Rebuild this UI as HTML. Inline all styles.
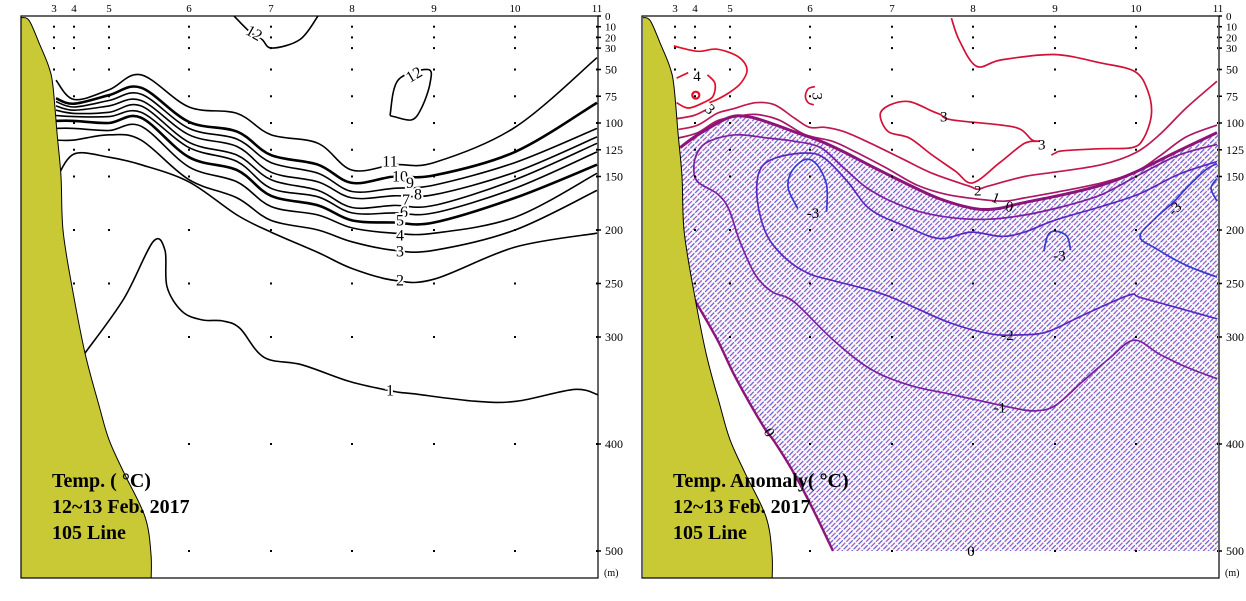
<!DOCTYPE html>
<html><head><meta charset="utf-8"><style>
html,body{margin:0;padding:0;background:#fff}
svg{display:block}
text{font-family:"Liberation Serif",serif}
</style></head><body>
<svg id="chart" width="1246" height="601" viewBox="0 0 1246 601" xmlns="http://www.w3.org/2000/svg">
<defs>
<pattern id="hatch" patternUnits="userSpaceOnUse" width="7" height="7" patternTransform="rotate(-45)">
<line x1="0" y1="1.5" x2="7" y2="1.5" stroke="#a050b8" stroke-width="1.3" stroke-dasharray="4 1.2"/>
<line x1="0" y1="5" x2="7" y2="5" stroke="#5a58d8" stroke-width="1.3" stroke-dasharray="4 1.2"/>
</pattern>
<clipPath id="clipL"><rect x="21" y="16" width="577" height="562"/></clipPath>
<clipPath id="clipR"><rect x="643" y="16" width="575" height="562"/></clipPath>
</defs>
<g id="left"></g>
<g id="right"></g>
</svg>
<script>
// ---- axes data ----
const stationNums=[3,4,5,6,7,8,9,10,11];
const stationKm=[0,5,13.75,33.75,54.25,74.5,95,115.25,135.75];
const stationMaxDepth=[50,250,300,500,500,500,500,500,500];
const sampleDepths=[10,20,30,50,75,100,125,150,200,250,300,400,500];
const depthTicks=[0,10,20,30,50,75,100,125,150,200,250,300,400,500];
const coastKm=[-8.25,-6.25,-3.75,-1.25,-0.25,0.75,1.75,2.25,4.5,7.75,11.25,13.75,17.5,22.75,24.25,24.25];
const coastDepth=[1.5,4,25,48,66,109,150,200,253,315,364,396,427,468,503,530];
// ---- temperature isotherms (depth at each grid km) ----
const tempGridKm=[0.5,5,13.75,21.75,33.75,45.75,54.25,66,74.5,85,95,115.25,135.75];
const iso11=[60,78,69,55,85,91,111,119,144,139,137,104,39];
const iso10=[77,82,74,67,99,108,130,139,156,150,149,127,81];
const iso9=[80,85,79,73,105,115,137,147,164,161,158,137,105];
const iso8=[84,88,84,79,111,122,146,155,170,168,167,146,113];
const iso7=[88,91,90,84,118,130,153,163,179,177,177,153,119];
const iso6=[93,94,94,90,123,136,161,169,184,184,184,161,127];
const iso5=[98,98,100,95,132,144,168,177,191,193,193,170,139];
const iso4=[105,105,107,103,141,155,178,186,198,203,203,188,147];
const iso3=[116,116,111,116,153,170,191,200,211,219,219,200,163];
const iso2=[153,129,132,139,155,186,202,221,236,247,246,216,203];
const iso1Km=[7.75,17.5,24.75,27.75,28.25,32,37,42.25,46.5,52.5,62,74.25,85.25,89.75,105.25,115.75,130,136];
const iso1Depth=[315,264,211,219,253,276,284,285,292,319,326,342,351,353,360,360,349,354];
const iso12TopKm=[45,49,52,54.5,61.5,66];
const iso12TopDepth=[0,15,22,30,22,0];
const iso12LoopKm=[84,86,93.5,94,92,89.5,85,84];
const iso12LoopDepth=[93,60,50,63,85,97,94,93];
const tempLabels=["12","12","11","10","9","8","7","6","5","4","3","2","1"];
const tempLabelKm=[50,90,84,86.5,89,91,88,87.5,86.5,86.5,86.5,86.5,84];
const tempLabelDepth=[16,55,136,150,156,167,172,183,191,205,220,247,350];
const tempLabelRot=[30,-30,0,0,0,0,0,0,0,0,0,0,0];
// ---- anomaly contours [km, depth] ----
const an3Main=[[69.1,2],[71.1,23],[75.4,47],[81.6,41],[94.8,36],[106.6,44],[115,52],[118.2,70],[119.1,92],[117.2,114],[114.3,123],[106.6,124],[97,126],[95.1,128],[94.1,130]];
const an3Loop=[[91.25,117],[87.4,119],[81.2,137],[74.4,156],[70.1,145],[64.3,130],[58.6,114],[53.3,108],[51.3,92],[53.8,83],[58.6,80],[64.3,89],[66.3,92],[69.1,97],[81.6,102],[86.4,106],[89.3,116],[91.25,117]];
const an3Small=[[35,66],[33.3,68],[32.6,75],[33.3,81],[34.7,83]];
const an3Coast=[[0.4,96],[4.7,93],[7.6,88]];
const an4Outer=[[-0.3,28],[5.7,33],[10.5,31],[15.8,38],[18,50],[16.4,63],[13.4,72],[10.5,78],[8.6,81]];
const an4Seg=[[0.4,58],[3.3,53]];
const an4Inner=[[8.1,55],[10,63],[9.5,75],[7.1,81],[3.3,86],[0.4,81]];
const an2=[[0.9,106],[5.7,102],[10.5,91],[14.3,87],[20.1,81],[24.9,83],[29.7,95],[33.6,104],[37.4,104],[42.2,108],[48.9,119],[56.6,133],[64.3,147],[73.5,159],[75.7,162],[78.3,159],[87.4,150],[94.8,146],[106.6,139],[115,128],[121.1,111],[127.8,86],[135.5,61]];
const an1=[[0.9,114],[5.7,109],[10.5,98],[15.3,94],[20.1,92],[25.9,97],[32.6,111],[39.3,117],[45.1,127],[52.8,142],[60.5,158],[68.2,167],[77.8,172],[82.6,173],[87.4,170],[94.8,165],[106.6,156],[115,146],[121.1,131],[127.8,113],[135.5,102]];
const an0=[[1.3,123],[5.7,111],[13.4,95],[18.2,94],[23,99],[29.7,108],[36.4,117],[42.2,127],[48.9,140],[58.6,158],[66.3,171],[74.9,180],[80.7,180],[86.4,175],[97,167],[106.6,158],[115,146],[125.9,126],[135.5,109]];
const an0Lower=[[4.7,264],[10.5,302],[15.3,339],[22,383],[24.9,398],[29.7,427],[34.5,461],[39.5,500]];
const anM1=[[135.5,120],[125.9,130],[116.25,148],[106.6,167],[97,178],[87.4,186],[77.8,190],[68.2,188],[58.6,180],[48.9,163],[42.2,142],[36.4,123],[29.7,117],[23,114],[15.3,111],[8.6,117],[5.7,127],[4.7,142],[5.7,155],[10.5,166],[13.4,180],[16.25,211],[20.1,242],[24.4,258],[29.7,267],[39.3,302],[48.9,330],[58.6,345],[68.2,353],[76.8,360],[85.5,367],[90.3,369],[95.1,364],[101.8,342],[108.6,320],[114.8,303],[121.1,316],[127.8,328],[135.5,339]];
const anM2=[[135.5,136],[125.9,148],[116.25,166],[106.6,178],[94.8,191],[87.4,202],[81.6,206],[74,202],[66.3,208],[58.6,198],[48.9,181],[43.2,155],[37.4,133],[32.6,128],[24.9,133],[21.1,145],[20.6,173],[23,205],[27.8,227],[33.6,241],[40.3,248],[52.8,261],[68.2,286],[78.8,297],[86.4,298],[93.2,295],[101.8,280],[113.4,261],[116.25,263],[125.9,273],[135.5,283]];
const anM3Oval=[[30.7,180],[28.3,161],[29.2,145],[32.6,134],[35.5,139],[37.9,158],[37.9,183]];
const anM3Small=[[92.2,220],[93.2,205],[95.1,201],[98,206],[98.9,219]];
const anM3Right=[[135.5,138],[132.6,144],[127.8,161],[124.9,173],[120.1,189],[116.25,206],[120.1,217],[127.8,233],[135.5,244]];
const anM3Edge=[[135.5,152],[134,161],[135.5,173]];
const anLabels=["4","3","3","3","3","2","1","0","-3","-3","-3","-2","-1","0","0"];
const anLabelKm=[5.5,8.8,35.6,67.2,91.7,75.7,80.2,83.6,34.5,96.1,124.9,83.1,81.2,23.6,74];
const anLabelDepth=[56,87,75,94,120,163,170,178,184,224,180,298,366,389,500];
const anLabelRot=[0,45,90,0,0,0,20,10,0,0,-45,0,0,60,0];

// ---- axis functions ----
const yD=d=>16+d*1.07;
const xK=(km,off)=>54+km*4+off;
const NS='http://www.w3.org/2000/svg';
function mk(tag,attrs,parent){const e=document.createElementNS(NS,tag);for(const k in attrs)e.setAttribute(k,attrs[k]);parent.appendChild(e);return e;}
function smooth(pts){
  if(pts.length<2)return '';
  let d='M'+pts[0][0].toFixed(1)+','+pts[0][1].toFixed(1);
  for(let i=0;i<pts.length-1;i++){
    const p0=pts[i-1]||pts[i],p1=pts[i],p2=pts[i+1],p3=pts[i+2]||p2;
    const c1=[p1[0]+(p2[0]-p0[0])/6,p1[1]+(p2[1]-p0[1])/6];
    const c2=[p2[0]-(p3[0]-p1[0])/6,p2[1]-(p3[1]-p1[1])/6];
    d+='C'+c1[0].toFixed(1)+','+c1[1].toFixed(1)+' '+c2[0].toFixed(1)+','+c2[1].toFixed(1)+' '+p2[0].toFixed(1)+','+p2[1].toFixed(1);
  }
  return d;
}
function drawLine(g,kms,deps,off,color,w,name){
  const pts=kms.map((k,i)=>[xK(k,off),yD(deps[i])]);
  const p=mk('path',{d:smooth(pts),fill:'none',stroke:color,'stroke-width':w,'stroke-linejoin':'round'},g);
  
  
}
function drawPairs(g,pairs,off,color,w,name){
  drawLine(g,pairs.map(p=>p[0]),pairs.map(p=>p[1]),off,color,w,name);
}
function drawLabel(g,txt,km,dep,rot,off,halo,name,size){
  const x=xK(km,off),y=yD(dep);
  const t=mk('text',{x:x,y:y+5,'font-size':size||16,'text-anchor':'middle',fill:'#000',transform:'rotate('+rot+' '+x+' '+y+')'},g);
  if(halo){t.setAttribute('stroke','#fff');t.setAttribute('stroke-width','4');t.setAttribute('paint-order','stroke');}
  t.textContent=txt;
  
  
}
function panel(g,off,clipId,titleLines){
  const inner=mk('g',{'clip-path':'url(#'+clipId+')'},g);
  return inner;
}
function drawCommon(g,inner,off,titles){
  // land
  let pts=coastKm.map((k,i)=>[xK(k,off),yD(coastDepth[i])]);
  let d=smooth(pts)+'L'+xK(-9,off)+','+yD(530)+'L'+xK(-9,off)+','+yD(0)+'Z';
  const land=mk('path',{d:d,fill:'#c9c935',stroke:'#000','stroke-width':1},inner);
  
  
  // sample dots
  stationKm.forEach((k,si)=>{
    sampleDepths.forEach(dep=>{
      if(dep<=stationMaxDepth[si]){
        const r=mk('rect',{x:xK(k,off)-1,y:yD(dep)-1,width:2,height:2,fill:'#000'},inner);
        
        
      }
    });
  });
  // frame
  const fr=mk('rect',{x:xK(-8.25,off),y:16,width:577,height:562,fill:'none',stroke:'#000','stroke-width':1.2},g);
  
  
  // station labels
  stationNums.forEach((s,i)=>{
    const t=mk('text',{x:xK(stationKm[i],off),y:12,'font-size':11,'text-anchor':'middle',fill:'#000'},g);
    t.textContent=s;
    
    
  });
  // depth ticks
  const rx=xK(135.75,off)+1;
  depthTicks.forEach(dep=>{
    const tk=mk('line',{x1:rx,x2:rx+3,y1:yD(dep),y2:yD(dep),stroke:'#000','stroke-width':1.5},g);
    
    
    const t=mk('text',{x:rx+7,y:yD(dep)+4,'font-size':dep<=30?11:12,fill:'#000'},g);
    t.textContent=dep;
    
    
  });
  const m=mk('text',{x:rx+6,y:576,'font-size':10,fill:'#000'},g);
  m.textContent='(m)';
  
  
  titles.forEach((s,i)=>{
    const t=mk('text',{x:xK(-8.25,off)+31,y:487+i*26,'font-size':20,'font-weight':'bold',fill:'#000'},g);
    t.textContent=s;
    
    
  });
}
// ---- LEFT PANEL ----
const L=document.getElementById('left');
const Li=panel(L,0,'clipL');
const isos=[iso11,iso10,iso9,iso8,iso7,iso6,iso5,iso4,iso3,iso2];
const isoVals=[11,10,9,8,7,6,5,4,3,2];
isos.forEach((arr,i)=>{
  const thick=(isoVals[i]===10||isoVals[i]===5);
  drawLine(Li,tempGridKm,arr,0,'#000',thick?2.6:1.6,'isotherm-'+isoVals[i]);
});
drawLine(Li,iso1Km,iso1Depth,0,'#000',1.6,'isotherm-1');
drawLine(Li,iso12TopKm,iso12TopDepth,0,'#000',1.6,'isotherm-12-top');
drawLine(Li,iso12LoopKm,iso12LoopDepth,0,'#000',1.6,'isotherm-12-loop');
tempLabels.forEach((s,i)=>drawLabel(Li,s,tempLabelKm[i],tempLabelDepth[i],tempLabelRot[i],0,true,'isotherm-label',16));
drawCommon(L,Li,0,['Temp. ( °C)','12~13 Feb. 2017','105 Line']);

// ---- RIGHT PANEL ----
const R=document.getElementById('right');
const RO=621;
const Ri=panel(R,RO,'clipR');
// hatched negative region
(function(){
  let pts=an0.map(p=>[xK(p[0],RO),yD(p[1])]);
  let d=smooth(pts);
  d+='L'+xK(136,RO)+','+yD(109)+'L'+xK(136,RO)+','+yD(500)+'L'+xK(39.5,RO)+','+yD(500);
  const low=an0Lower.slice().reverse().map(p=>[xK(p[0],RO),yD(p[1])]);
  d+=smooth(low).replace(/^M/,'L');
  d+='L'+xK(-3,RO)+','+yD(264)+'L'+xK(-3,RO)+','+yD(123)+'Z';
  const h=mk('path',{d:d,fill:'url(#hatch)',stroke:'none'},Ri);
  
  
})();
drawPairs(Ri,an3Main,RO,'#d2103a',1.7,'anomaly-3-main');
drawPairs(Ri,an3Loop,RO,'#d2103a',1.7,'anomaly-3-loop');
drawPairs(Ri,an3Small,RO,'#d2103a',1.7,'anomaly-3-small');
drawPairs(Ri,an3Coast,RO,'#c8184a',1.7,'anomaly-3-coast');
drawPairs(Ri,an4Outer,RO,'#e0102a',1.7,'anomaly-4-outer');
drawPairs(Ri,an4Seg,RO,'#e0102a',1.7,'anomaly-4-seg');
drawPairs(Ri,an4Inner,RO,'#e0102a',1.7,'anomaly-4-inner');
(function(){const c=mk('circle',{cx:xK(5.2,RO),cy:yD(74),r:3.5,fill:'none',stroke:'#e0102a','stroke-width':2.2},Ri);

})();
drawPairs(Ri,an2,RO,'#c01850',1.7,'anomaly-2');
drawPairs(Ri,an1,RO,'#a81866',1.7,'anomaly-1');
drawPairs(Ri,an0,RO,'#8c1478',3,'anomaly-0');
drawPairs(Ri,an0Lower,RO,'#8c1478',2.4,'anomaly-0-lower');
drawPairs(Ri,anM1,RO,'#7a20a0',1.7,'anomaly-minus1');
drawPairs(Ri,anM2,RO,'#5a28c0',1.7,'anomaly-minus2');
drawPairs(Ri,anM3Oval,RO,'#3a38d0',1.7,'anomaly-minus3-oval');
drawPairs(Ri,anM3Small,RO,'#3a38d0',1.7,'anomaly-minus3-small');
drawPairs(Ri,anM3Right,RO,'#3a38d0',1.7,'anomaly-minus3-right');
drawPairs(Ri,anM3Edge,RO,'#3a38d0',1.7,'anomaly-minus3-edge');
anLabels.forEach((s,i)=>drawLabel(Ri,s,anLabelKm[i],anLabelDepth[i],anLabelRot[i],RO,false,'anomaly-label',15));
drawCommon(R,Ri,RO,['Temp. Anomaly( °C)','12~13 Feb. 2017','105 Line']);
</script>
</body></html>
